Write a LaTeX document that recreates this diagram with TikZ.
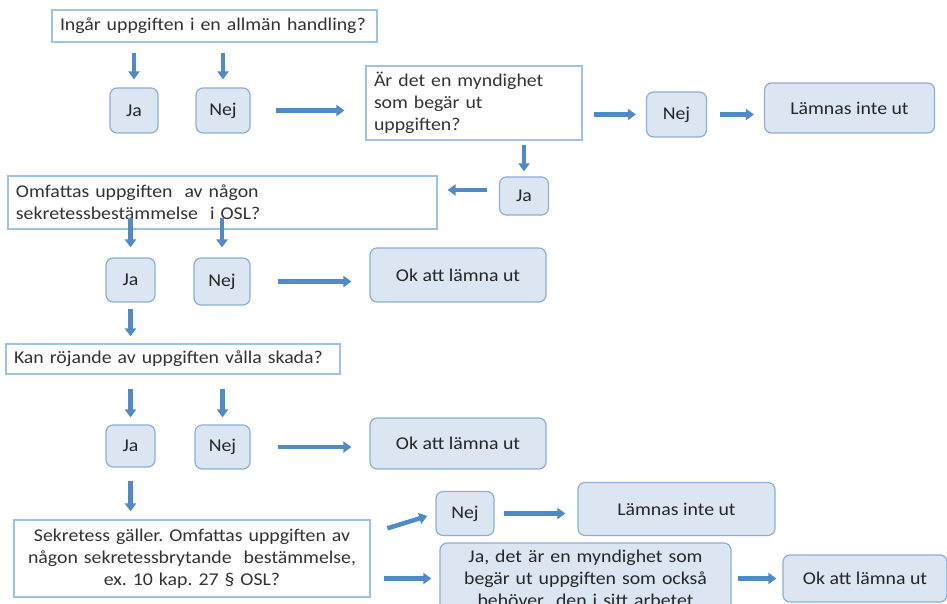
\documentclass[tikz,border=0pt]{standalone}
\usepackage{fontspec}
\setmainfont{Carlito}[FakeStretch=1.1]
\usepackage{tikz}
\usetikzlibrary{arrows.meta}
\frenchspacing
\definecolor{qline}{RGB}{157,195,230}
\definecolor{aline}{RGB}{140,175,215}
\definecolor{afill}{RGB}{220,230,242}
\definecolor{arrowblue}{RGB}{79,139,203}
\tikzstyle{fraga} = [rectangle, draw=qline, fill=white, line width=1.2pt,
    align=left, inner xsep=8pt, inner ysep=4pt, text=black!80]
\tikzstyle{svar} = [rectangle, draw=aline, fill=afill, line width=1.2pt,
    rounded corners=7pt, align=center, inner sep=2pt,
    minimum width=50pt, minimum height=45pt, text=black!85]
\tikzstyle{utfall} = [svar, minimum width=176pt, minimum height=52pt]
\tikzstyle{pil} = [-{Triangle[length=8pt,width=11pt]}, draw=arrowblue, line width=4.5pt]

\begin{document}
\begin{tikzpicture}[x=1pt,y=-1pt,font=\fontsize{18}{22}\selectfont,
                    every edge/.append style=pil]
  \useasboundingbox (0,0) rectangle (947,604);
  \clip (0,0) rectangle (947,604);

  \node[fraga,text width=309pt,minimum height=32pt] (q1) at (214.5,26) {Ingår uppgiften i en allmän handling?};
  \node[svar,minimum width=48pt]   (ja1)  at (134,110.5)   {Ja};
  \node[svar,minimum width=54pt]   (nej1) at (223,110.5)   {Nej};
  \node[fraga,text width=200pt,minimum height=74pt] (q2) at (474,103) {Är det en myndighet\\som begär ut\\uppgiften?};
  \node[svar,minimum width=60pt]   (nej2) at (676.5,114.5) {Nej};
  \node[utfall,minimum width=170pt,minimum height=50pt] (lam1) at (849.5,108) {Lämnas inte ut};
  \node[svar,minimum width=49pt,minimum height=38pt] (ja2) at (524,196) {Ja};

  \node[fraga,text width=413pt,minimum height=53pt] (q3) at (222.5,202.5) {Omfattas uppgiften\ \ av någon\\sekretessbestämmelse\ \ i OSL?};
  \node[svar,minimum width=49pt,minimum height=44pt] (ja3)  at (130.5,280) {Ja};
  \node[svar,minimum width=56pt,minimum height=47pt] (nej3) at (222,281.5) {Nej};
  \node[utfall,minimum height=54pt] (ok1) at (458,275) {Ok att lämna ut};

  \node[fraga,text width=318pt,minimum height=30pt] (q4) at (173,359) {Kan röjande av uppgiften vålla skada?};
  \node[svar,minimum width=49pt,minimum height=42pt] (ja4)  at (130.5,446) {Ja};
  \node[svar,minimum width=55pt,minimum height=44pt] (nej4) at (222.5,447) {Nej};
  \node[utfall,minimum height=51pt] (ok2) at (458,443.5) {Ok att lämna ut};

  \node[fraga,align=center,text width=340pt,minimum height=77pt] (q5) at (192,558.5) {Sekretess gäller. Omfattas uppgiften av\\någon sekretessbrytande\ \ bestämmelse,\\ex. 10 kap. 27 § OSL?};
  \node[svar,minimum width=58pt,minimum height=44pt] (nej5) at (465,513.5) {Nej};
  \node[utfall,minimum width=197pt,minimum height=53pt] (lam2) at (676.5,509) {Lämnas inte ut};
  \node[svar,text width=280pt,minimum width=291pt,minimum height=70pt] (ja5) at (585.5,578) {Ja, det är en myndighet som\\begär ut uppgiften som också\\behöver\ \ den i sitt arbetet};
  \node[utfall,minimum width=164pt,minimum height=47pt] (ok3) at (865,578.5) {Ok att lämna ut};

  \path
  (ja1 |- q1.south) edge[shorten <=10pt,shorten >=8pt] (ja1.north)
  (nej1 |- q1.south) edge[shorten <=10pt,shorten >=8pt] (nej1.north)
  (nej1.east) edge[shorten <=25pt,shorten >=21pt] (nej1 -| q2.west)
  (nej2 -| q2.east) edge[shorten <=11pt,shorten >=10pt] (nej2.west)
  (nej2.east) edge[shorten <=13pt,shorten >=10pt] (nej2.east -| lam1.west)
  (ja2 |- q2.south) edge[shorten <=4pt,shorten >=5pt] (ja2.north)
  ([yshift=6pt]ja2.west) edge[shorten <=12pt,shorten >=10pt] ([yshift=6pt]ja2.west -| q3.east)

  (ja3 |- q3.south) edge[shorten <=-12pt,shorten >=10pt] (ja3.north)
  (nej3 |- q3.south) edge[shorten <=-12pt,shorten >=10pt] (nej3.north)
  (nej3.east) edge[shorten <=27pt,shorten >=18pt] (nej3 -| ok1.west)
  (ja3.south) edge[shorten <=6pt,shorten >=7pt] (ja3 |- q4.north)

  (ja4 |- q4.south) edge[shorten <=14pt,shorten >=7pt] (ja4.north)
  (nej4 |- q4.south) edge[shorten <=14pt,shorten >=7pt] (nej4.north)
  (nej4.east) edge[shorten <=27pt,shorten >=18pt] (nej4 -| ok2.west)
  (ja4.south) edge[shorten <=13pt,shorten >=8pt] (ja4 |- q5.north)

  ([yshift=25pt]q5.east) edge[shorten <=17.5pt,shorten >=8.5pt] (nej5.west)
  (nej5.east) edge[shorten <=9pt,shorten >=12pt] (nej5 -| lam2.west)
  ([yshift=-20pt]q5.east) edge[shorten <=13pt,shorten >=8pt] ([yshift=-20pt]q5.east -| ja5.west)
  (ok3 -| ja5.east) edge[shorten <=6pt,shorten >=6pt] (ok3.west)
  ;
\end{tikzpicture}
\end{document}
